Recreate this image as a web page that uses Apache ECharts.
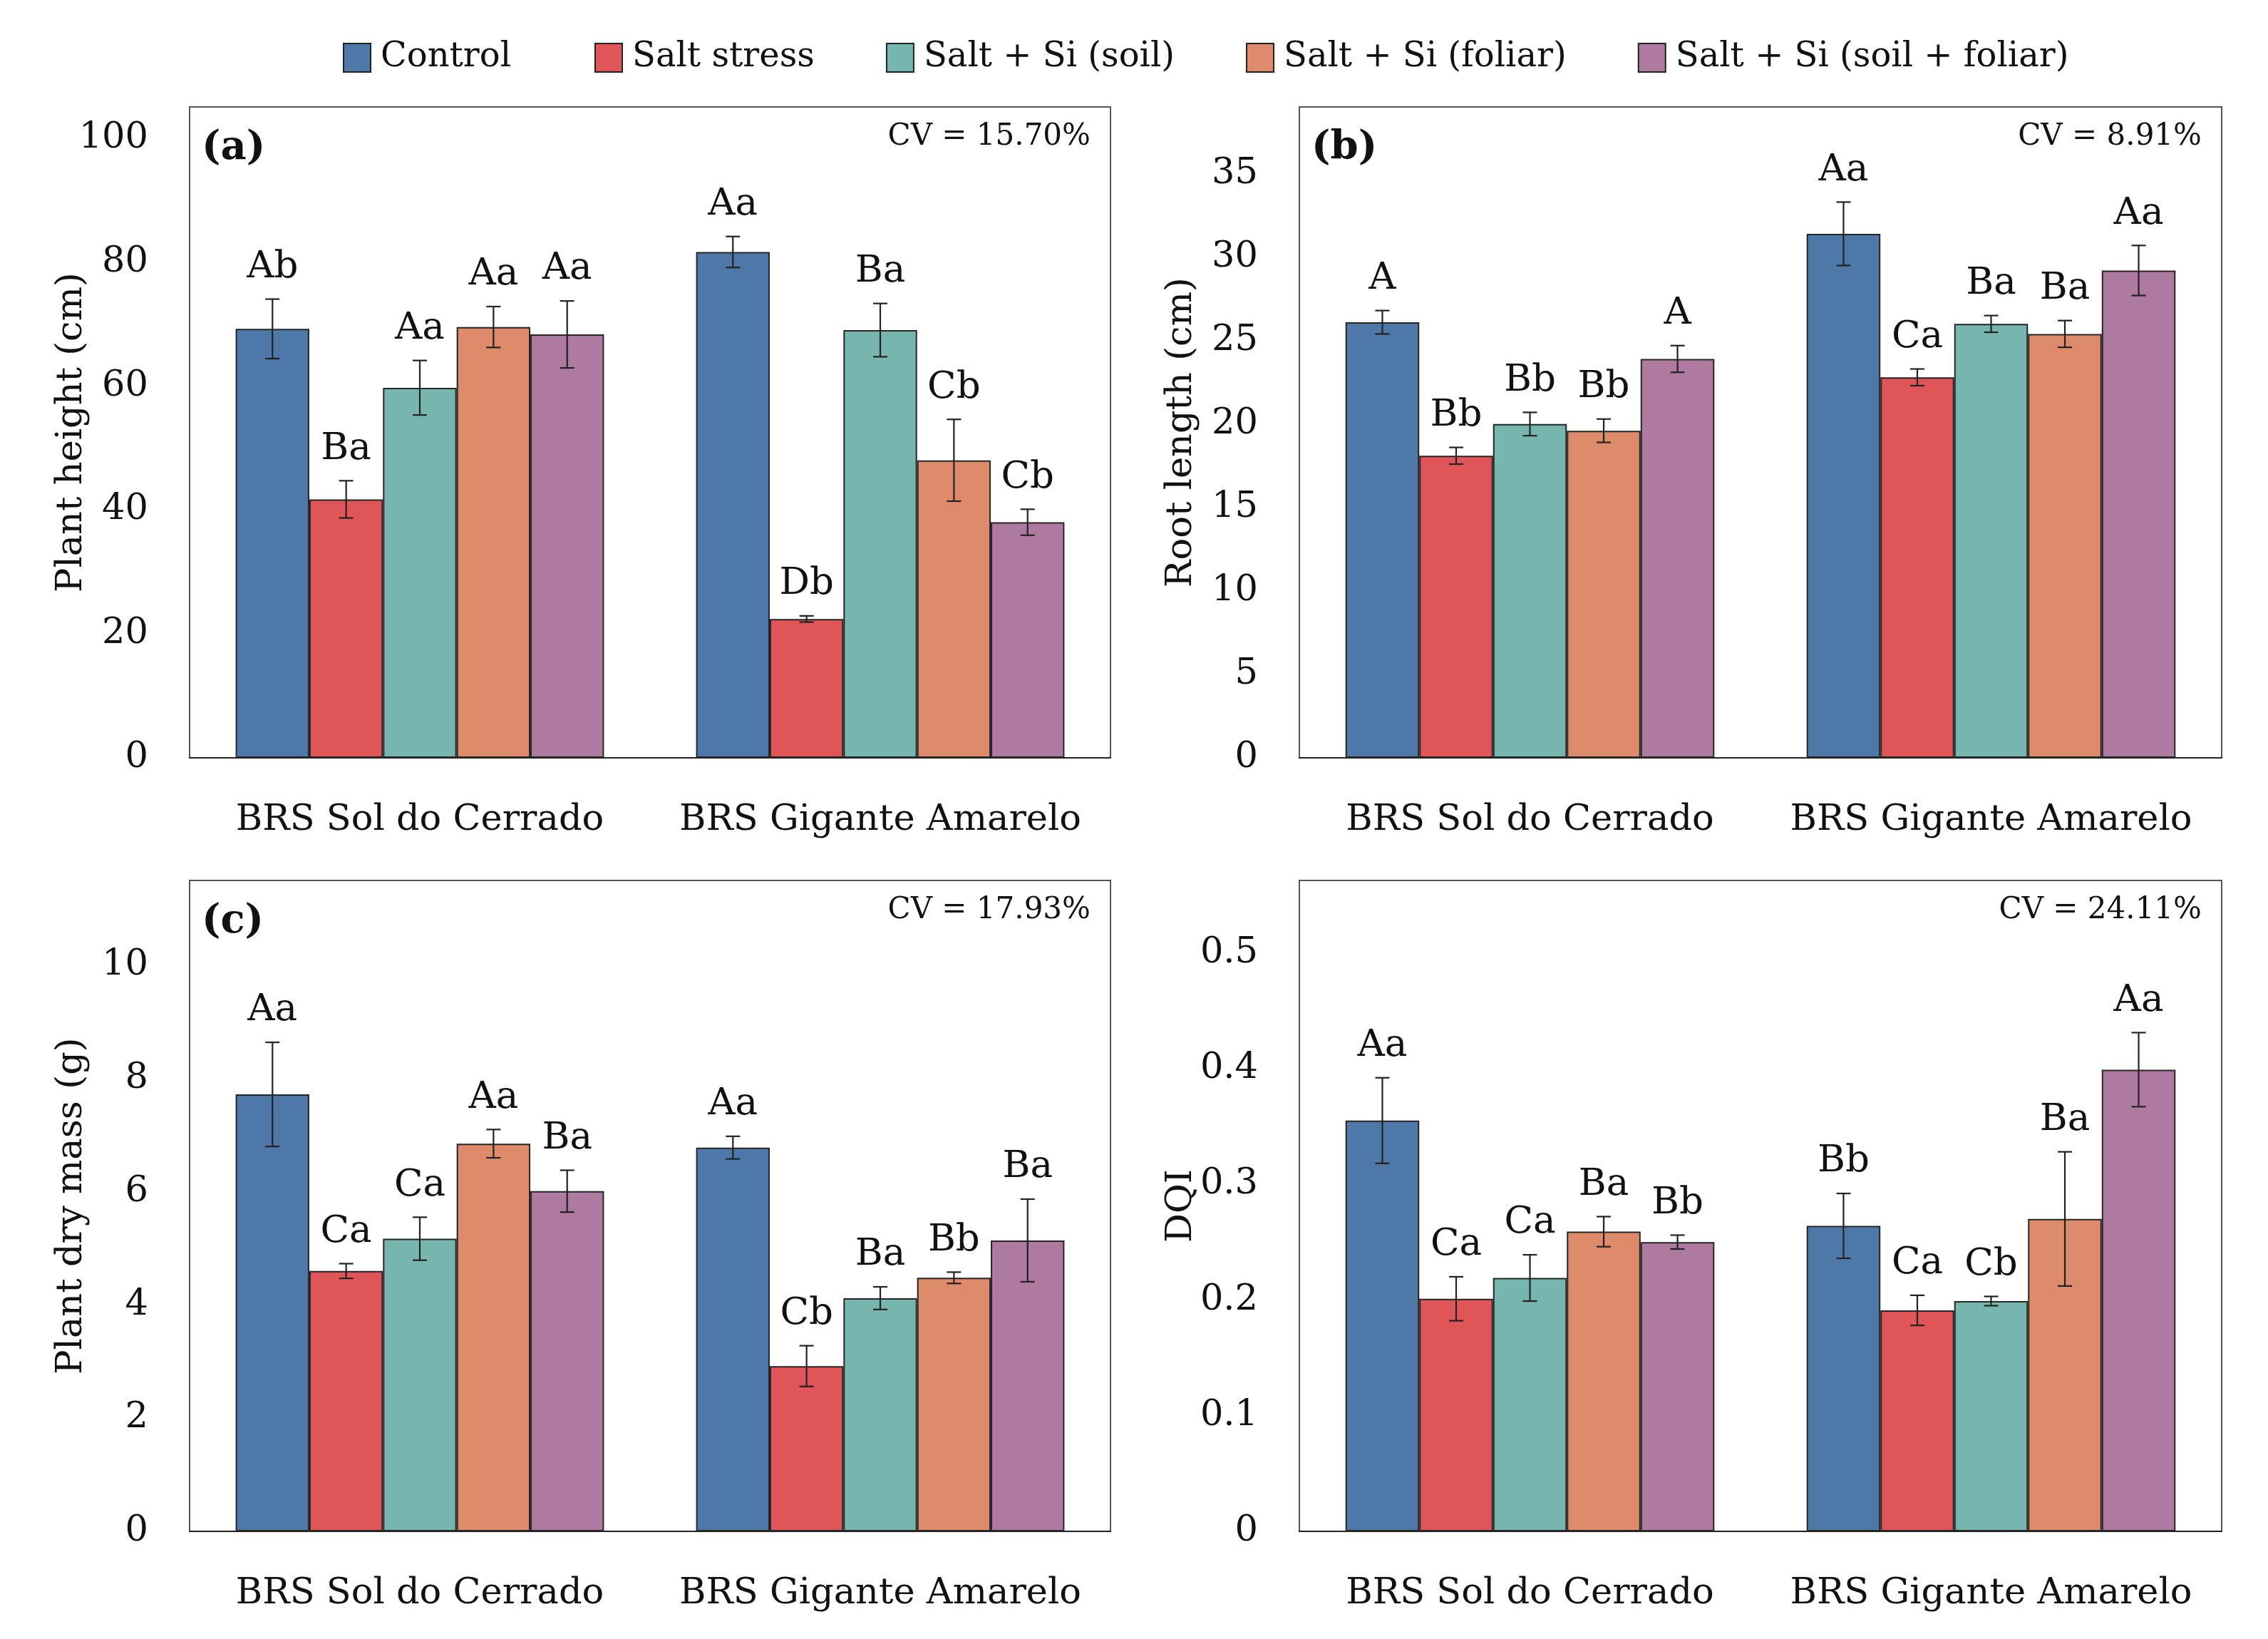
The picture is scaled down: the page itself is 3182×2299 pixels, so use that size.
<!DOCTYPE html>
<html>
<head>
<meta charset="utf-8">
<script src="https://cdn.jsdelivr.net/npm/echarts@6/dist/echarts.min.js"></script>
<style>
html,body{margin:0;padding:0;background:#fff;}
#chart{width:3182px;height:2299px;}
</style>
</head>
<body>
<div id="chart"></div>
<script>
// ---------------- DATA ----------------
const categories = ['BRS Sol do Cerrado', 'BRS Gigante Amarelo'];
const treatments = ['Control', 'Salt stress', 'Salt + Si (soil)', 'Salt + Si (foliar)', 'Salt + Si (soil + foliar)'];

// each row = treatment, columns = [Sol do Cerrado, Gigante Amarelo]
const heightMean = [[69.2, 81.6], [41.7, 22.4], [59.7, 69.0], [69.5, 48.0], [68.3, 38.0]];
const heightErr = [[4.8, 2.5], [3.0, 0.5], [4.4, 4.3], [3.3, 6.6], [5.4, 2.1]];
const heightLetters = [['Ab', 'Aa'], ['Ba', 'Db'], ['Aa', 'Ba'], ['Aa', 'Cb'], ['Aa', 'Cb']];

const rootMean = [[26.1, 31.4], [18.1, 22.8], [20.0, 26.0], [19.6, 25.4], [23.9, 29.2]];
const rootErr = [[0.7, 1.9], [0.5, 0.5], [0.7, 0.5], [0.7, 0.8], [0.8, 1.5]];
const rootLetters = [['A', 'Aa'], ['Bb', 'Ca'], ['Bb', 'Ba'], ['Bb', 'Ba'], ['A', 'Aa']];

const massMean = [[7.72, 6.78], [4.60, 2.92], [5.17, 4.12], [6.85, 4.48], [6.01, 5.14]];
const massErr = [[0.92, 0.20], [0.13, 0.36], [0.38, 0.20], [0.25, 0.10], [0.37, 0.73]];
const massLetters = [['Aa', 'Aa'], ['Ca', 'Cb'], ['Ca', 'Ba'], ['Aa', 'Bb'], ['Ba', 'Ba']];

const dqiMean = [[0.355, 0.264], [0.201, 0.191], [0.219, 0.199], [0.259, 0.270], [0.250, 0.399]];
const dqiErr = [[0.037, 0.028], [0.019, 0.013], [0.020, 0.004], [0.013, 0.058], [0.006, 0.032]];
const dqiLetters = [['Aa', 'Bb'], ['Ca', 'Ca'], ['Ca', 'Cb'], ['Ba', 'Ba'], ['Bb', 'Aa']];

const yNames = ['Plant height (cm)', 'Root length (cm)', 'Plant dry mass (g)', 'DQI'];
const cvTexts = ['CV = 15.70%', 'CV = 8.91%', 'CV = 17.93%', 'CV = 24.11%'];
const panelTags = ['(a)', '(b)', '(c)', ''];

// ---------------- STYLE ----------------
const colors = ['#4E78A8', '#E05558', '#77B6AF', '#DE8B6C', '#AF7AA0'];
const FONT = '"DejaVu Serif", "Liberation Serif", serif';
const FS = 51;

const panels = [
  {mean: heightMean, err: heightErr, letters: heightLetters, max: 105, interval: 20, grid: {left: 266, top: 150, width: 1292, height: 913}},
  {mean: rootMean, err: rootErr, letters: rootLetters, max: 39, interval: 5, grid: {left: 1823, top: 150, width: 1294, height: 913}},
  {mean: massMean, err: massErr, letters: massLetters, max: 11.5, interval: 2, grid: {left: 266, top: 1235, width: 1292, height: 913}},
  {mean: dqiMean, err: dqiErr, letters: dqiLetters, max: 0.5625, interval: 0.1, grid: {left: 1823, top: 1235, width: 1294, height: 913}}
];

const grids = [], xAxes = [], yAxes = [], series = [], graphics = [];

panels.forEach((p, pi) => {
  grids.push(Object.assign({show: true, borderColor: '#555', borderWidth: 2, containLabel: false}, p.grid));
  xAxes.push({
    type: 'category', gridIndex: pi, data: categories,
    axisLine: {show: true, lineStyle: {color: '#222', width: 2}},
    axisTick: {show: false},
    axisLabel: {fontFamily: FONT, fontSize: FS, color: '#111', margin: 62, interval: 0}
  });
  const iv = p.interval;
  yAxes.push({
    type: 'value', gridIndex: pi, min: 0, max: p.max, interval: iv,
    name: yNames[pi], nameLocation: 'middle', nameGap: 140, nameRotate: 90, nameMoveOverlap: false,
    nameTextStyle: {fontFamily: FONT, fontSize: FS, color: '#111'},
    splitLine: {show: false}, axisLine: {show: false}, axisTick: {show: false},
    axisLabel: {
      fontFamily: FONT, fontSize: FS, color: '#111', margin: 58,
      formatter: v => {
        const r = v / iv;
        return Math.abs(r - Math.round(r)) < 1e-6 ? String(+v.toFixed(3)) : '';
      }
    }
  });
  treatments.forEach((t, ti) => {
    series.push({
      type: 'bar', name: t, xAxisIndex: pi, yAxisIndex: pi,
      data: p.mean[ti],
      barGap: '0%', barCategoryGap: '20%',
      itemStyle: {color: colors[ti], borderColor: '#262626', borderWidth: 2},
      emphasis: {disabled: true}
    });
  });
  const edata = [];
  for (let ti = 0; ti < 5; ti++) for (let c = 0; c < 2; c++) edata.push([c, p.mean[ti][c], p.err[ti][c], ti]);
  series.push({
    type: 'custom', name: 'err' + pi, xAxisIndex: pi, yAxisIndex: pi, z: 5,
    data: edata, silent: true,
    renderItem: (params, api) => {
      const c = api.value(0), m = api.value(1), e = api.value(2), ti = api.value(3);
      const catW = api.size([1, 0])[0];
      const groupW = catW * 0.8, bw = groupW / 5;
      const base = api.coord([c, m]);
      const x = base[0] - groupW / 2 + bw * (ti + 0.5);
      const yT = api.coord([c, m + e])[1], yB = api.coord([c, m - e])[1];
      const cap = 10;
      const ls = {stroke: '#222', lineWidth: 2.2};
      return {type: 'group', children: [
        {type: 'line', shape: {x1: x, y1: yT, x2: x, y2: yB}, style: ls},
        {type: 'line', shape: {x1: x - cap, y1: yT, x2: x + cap, y2: yT}, style: ls},
        {type: 'line', shape: {x1: x - cap, y1: yB, x2: x + cap, y2: yB}, style: ls},
        {type: 'text', x: x, y: yT - 18, style: {text: p.letters[ti][c], fontFamily: FONT, fontSize: 53, fill: '#111', align: 'center', verticalAlign: 'bottom'}}
      ]};
    }
  });
  const g = p.grid;
  if (panelTags[pi]) {
    graphics.push({type: 'text', x: g.left + 17, y: g.top + 58, style: {text: panelTags[pi], fontFamily: FONT, fontSize: 56, fontWeight: 'bold', fill: '#111', align: 'left', verticalAlign: 'middle'}});
  }
  graphics.push({type: 'text', x: g.left + g.width - 28, y: g.top + 42, style: {text: cvTexts[pi], fontFamily: FONT, fontSize: 42, fill: '#111', align: 'right', verticalAlign: 'middle'}});
});

const legendBase = {
  top: 57, itemWidth: 38, itemHeight: 40, itemGap: 100, padding: 0,
  icon: 'rect', itemStyle: {borderColor: '#222', borderWidth: 2},
  textStyle: {fontFamily: FONT, fontSize: 48, color: '#111', padding: [0, 0, 0, 9]}
};

const chart = echarts.init(document.getElementById('chart'), null, {renderer: 'canvas'});
chart.setOption({
  animation: false,
  backgroundColor: '#fff',
  legend: [
    Object.assign({data: treatments.slice(0, 1), left: 481}, legendBase),
    Object.assign({data: treatments.slice(1), left: 834}, legendBase)
  ],
  grid: grids, xAxis: xAxes, yAxis: yAxes, series: series, graphic: graphics
});
</script>
</body>
</html>
